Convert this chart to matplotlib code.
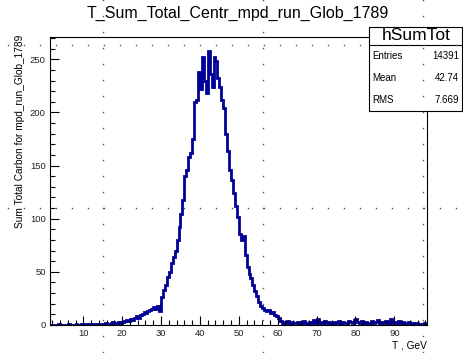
import numpy as np
import matplotlib.pyplot as plt
from matplotlib.lines import Line2D
from matplotlib.patches import Rectangle
from matplotlib.ticker import MultipleLocator

plt.rcParams["font.family"] = ["Liberation Sans", "DejaVu Sans"]

# Histogramm-Daten (Bins mit Breite 0.5 ab T = 1.5)
bin_start = 1.5
bin_width = 0.5
counts = [
    0, 0, 0, 0, 1, 0, 0, 0, 0, 1, 0, 0, 0, 1, 0, 0, 1,
    0, 1, 0, 1, 1, 0, 1, 0, 1, 1,
    1, 2, 1, 1, 2, 3, 2, 2, 3, 2,
    3, 4, 5, 4, 6, 5, 7, 8, 7, 9,
    10, 12, 11, 13, 14, 15, 17, 15, 18, 13,
    26, 33, 38, 45, 50, 58, 64, 70, 80, 92,
    104, 118, 140, 146, 158, 162, 175, 210, 212, 238,
    222, 252, 230, 218, 258, 236, 224, 252, 248, 232,
    224, 212, 204, 180, 164, 146, 136, 124, 112, 102,
    86, 80, 84, 66, 55, 48, 44, 38, 32, 27,
    22, 18, 16, 14, 13, 14, 11, 12, 9, 8,
    7, 4, 2, 3, 2, 4, 1, 3, 2, 2,
    3, 1, 2, 4, 2, 1, 3, 2, 5, 2,
    6, 2, 3, 1, 4, 2, 3, 2, 1, 3,
    2, 4, 1, 3, 2, 2, 4, 3, 2, 5,
    6, 3, 2, 4, 2, 3, 1, 2, 4, 2,
    3, 5, 2, 3, 2, 4, 3, 1, 6, 2,
    3, 2, 4, 2, 3, 1, 2, 3, 1, 2,
    1, 2, 1, 0, 1, 2,
]
stat_names = ["Entries", "Mean", "RMS"]
stat_values = ["14391", "42.74", "7.669"]

W, H = 464, 353
fig = plt.figure(figsize=(W / 100, H / 100), dpi=100)


def fx(px):
    return px / W


def fy(py):
    return 1 - py / H


ax = fig.add_axes([fx(50), fy(325), fx(427) - fx(50), fy(37) - fy(325)])
ax.set_facecolor("none")

edges = bin_start + bin_width * np.arange(len(counts) + 1)
ax.stairs(counts, edges, color="#000096", lw=2.0)

ax.set_xlim(1.44, 98.4)
ax.set_ylim(0, 271)
ax.xaxis.set_major_locator(MultipleLocator(10))
ax.xaxis.set_minor_locator(MultipleLocator(2))
ax.yaxis.set_major_locator(MultipleLocator(50))
ax.yaxis.set_minor_locator(MultipleLocator(10))
ax.tick_params(which="both", direction="in", top=False, right=False,
               labelsize=6.8, width=0.8, pad=3, labelcolor="#222222")
ax.tick_params(which="major", length=6.5)
ax.tick_params(which="minor", length=3.3)
for s in ax.spines.values():
    s.set_linewidth(0.8)

# Titel und Achsenbeschriftungen
fig.text(fx(238), fy(13), "T_Sum_Total_Centr_mpd_run_Glob_1789",
         ha="center", va="center", fontsize=11.5)
fig.text(fx(20), fy(35), "Sum Total Carbon for mpd_run_Glob_1789",
         rotation=90, ha="center", va="top", fontsize=7.3)
fig.text(fx(427), fy(345), "T , GeV", ha="right", va="center", fontsize=7.3)

# Statistik-Box
fig.add_artist(Rectangle((fx(369), fy(111)), fx(462) - fx(369), fy(27) - fy(111),
                         transform=fig.transFigure, facecolor="white",
                         edgecolor="black", lw=0.8, zorder=5))
fig.add_artist(Line2D([fx(369), fx(462)], [fy(45), fy(45)],
                      transform=fig.transFigure, color="black", lw=0.8, zorder=6))
fig.text(fx(416), fy(36), "hSumTot", ha="center", va="center", fontsize=12.5, zorder=7)
for i, (n, v) in enumerate(zip(stat_names, stat_values)):
    yy = fy(56 + 22 * i)
    fig.text(fx(372), yy, n, ha="left", va="center", fontsize=7, zorder=7)
    fig.text(fx(459), yy, v, ha="right", va="center", fontsize=7, zorder=7)

# Punktiertes Pad-Gitter
dot_x = np.arange(8, W, 16)
dot_y = np.arange(0, H, 16)
for py in [45, 208]:
    fig.add_artist(Line2D(fx(dot_x), fy(np.full(len(dot_x), py)),
                          transform=fig.transFigure, ls="none", marker="s",
                          ms=1.0, mew=0, color="#555555", zorder=8))
for px in [103, 263, 423]:
    fig.add_artist(Line2D(fx(np.full(len(dot_y), px)), fy(dot_y),
                          transform=fig.transFigure, ls="none", marker="s",
                          ms=1.0, mew=0, color="#555555", zorder=8))

fig.savefig("out.png", dpi=100)
